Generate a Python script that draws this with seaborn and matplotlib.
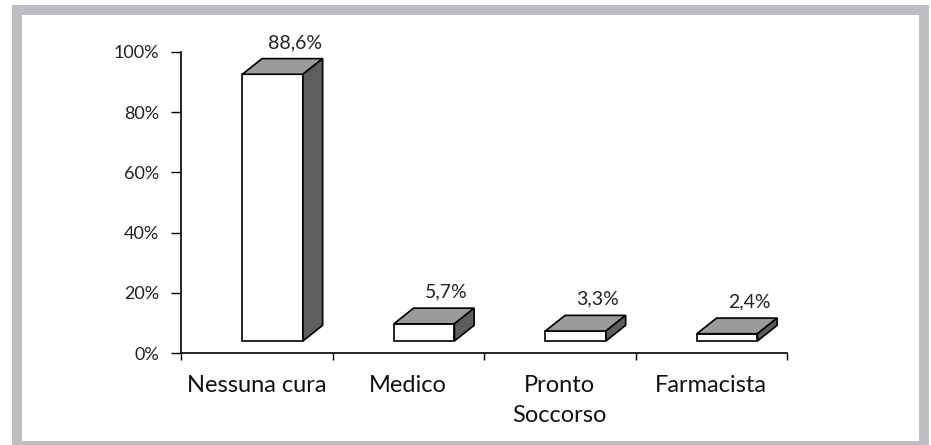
import numpy as np
import pandas as pd
import matplotlib
matplotlib.use("Agg")
import matplotlib.pyplot as plt
import seaborn as sns
from matplotlib.patches import Polygon, Rectangle

# dati
categorie = ["Nessuna cura", "Medico", "Pronto\nSoccorso", "Farmacista"]
valori = [88.6, 5.7, 3.3, 2.4]
etichette = ["88,6%", "5,7%", "3,3%", "2,4%"]
tick_y = [0, 20, 40, 60, 80, 100]

sns.set_theme(style="ticks")
plt.rcParams["font.family"] = ["Lato", "DejaVu Sans"]

fig = plt.figure(figsize=(9.31, 4.45), dpi=100)

# cornice grigia
grigio = "#bcbdc0"
fig.patches.append(Rectangle((12 / 931, 0), 917 / 931, 440 / 445,
                             transform=fig.transFigure, facecolor=grigio,
                             edgecolor="none", zorder=-2))
fig.patches.append(Rectangle((22 / 931, 4 / 445), 897 / 931, 426 / 445,
                             transform=fig.transFigure, facecolor="white",
                             edgecolor="none", zorder=-1))

ax = fig.add_axes([181 / 931, 92 / 445, 606 / 931, 301 / 445])
ax.patch.set_alpha(0)

df = pd.DataFrame({"cat": categorie, "val": valori})
sns.barplot(data=df, x="cat", y="val", width=0.4, color="white",
            edgecolor="black", linewidth=1.2, saturation=1, ax=ax, zorder=3)

# effetto 3D: spostamento della faccia frontale e profondita
sx, base = 0.105, 4.0
dx, dy = 0.13, 5.2
for p in ax.patches:
    p.set_x(p.get_x() + sx)
    p.set_y(base)
    x0 = p.get_x()
    x1 = x0 + p.get_width()
    top = base + p.get_height()
    ax.add_patch(Polygon([(x0, top), (x1, top), (x1 + dx, top + dy), (x0 + dx, top + dy)],
                         closed=True, facecolor="#9b9b9b", edgecolor="black",
                         linewidth=1.2, zorder=3))
    ax.add_patch(Polygon([(x1, base), (x1 + dx, base + dy), (x1 + dx, top + dy), (x1, top)],
                         closed=True, facecolor="#5e5e5e", edgecolor="black",
                         linewidth=1.2, zorder=3))

for i, (v, t) in enumerate(zip(valori, etichette)):
    ax.text(i + 0.25, base + v + dy + 3.5, t, ha="center", va="baseline",
            fontsize=14, color="#222222")

ax.set_xlim(-0.5, 3.5)
ax.set_ylim(0, 100)
ax.set_yticks(tick_y)
ax.set_yticklabels([f"{t}%" for t in tick_y], fontsize=13, color="#222222")
ax.set_xticks(np.arange(-0.5, 4, 1))
ax.set_xticklabels([])
ax.set_xticks(range(len(categorie)), minor=True)
ax.set_xticklabels(categorie, minor=True, fontsize=17, color="#111111",
                   va="top", linespacing=1.5)
ax.tick_params(axis="x", which="minor", length=0, pad=16)
ax.tick_params(axis="x", which="major", length=5, width=1, color="black")
ax.tick_params(axis="y", length=7, width=1, color="black", pad=8.5)
ax.set_xlabel("")
ax.set_ylabel("")
sns.despine(ax=ax)
for s in ["left", "bottom"]:
    ax.spines[s].set_color("black")
    ax.spines[s].set_linewidth(1.2)

fig.savefig("out.png", dpi=100)
